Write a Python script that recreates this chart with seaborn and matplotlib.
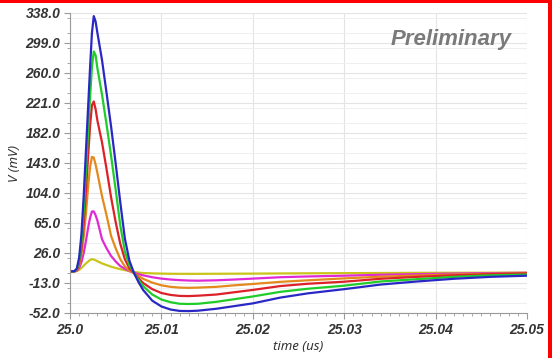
import numpy as np
import pandas as pd
import matplotlib
matplotlib.use("Agg")
import matplotlib.pyplot as plt
import seaborn as sns
from matplotlib.patches import Rectangle
from matplotlib.ticker import MultipleLocator

# time offsets in ns after 25.0 us
t_ns = [0, 0.5, 0.75, 1.0, 1.25, 1.5, 1.75, 2.0, 2.2, 2.4, 2.6, 2.8, 3.0, 3.5, 4.0,
        4.5, 5.0, 5.5, 6.0, 6.5, 7.0, 7.5, 8.0, 9.0, 10, 11, 12, 13, 14, 16, 18,
        20, 23, 26, 30, 34, 38, 42, 46, 50]

v_blue = [2, 2.5, 6, 20, 50, 100, 160, 220, 268, 312, 334, 327, 312, 277, 234,
          190, 142, 92, 45, 16, 0, -12, -22, -36, -43.5, -47.5, -49.3, -49.5, -49, -46.5, -43,
          -39.5, -32, -26.5, -21, -15, -11, -7.5, -5, -3.5]
v_green = [2, 2.4, 5, 16, 40, 82, 135, 188, 230, 268, 288, 283, 266, 232, 193,
           152, 108, 62, 28, 10, 0, -9, -17, -28, -34.5, -38, -40, -40.3, -40, -37.5, -34,
           -30.5, -24.5, -20.5, -16.5, -11, -8, -5, -3, -2]
v_red = [2, 2.3, 4.5, 13, 32, 64, 108, 155, 192, 218, 223, 213, 198, 170, 135,
         98, 66, 38, 18, 6, 0, -7, -13, -21, -26, -28.5, -29.8, -30, -29.5, -28, -25,
         -22, -17, -14, -11.3, -7.5, -5, -3, -1.5, -0.5]
v_orange = [2, 2.2, 4, 10, 24, 47, 78, 115, 138, 151, 150, 141, 130, 100, 75,
            48, 32, 18, 8.6, 3, 0, -4, -7.5, -12.5, -16, -18, -19, -19.3, -19, -18, -16,
            -14.3, -11.5, -9.5, -7, -4.8, -3.2, -2, -1, -0.3]
v_magenta = [2, 2.1, 3, 6.5, 14, 26, 42, 60, 72, 80, 80, 75, 68, 44, 32,
             22, 15, 9, 5.5, 2.5, 0.5, -1.5, -3, -5.5, -7.3, -8.5, -9.3, -9.8, -10, -9.5, -8.5,
             -7.3, -5.5, -4.5, -3.5, -2.3, -1.5, -0.8, -0.2, 0.3]
v_yellow = [2, 2, 2.5, 4, 6.5, 9.5, 12.5, 15, 17, 18, 17.5, 16.5, 15.3, 12.5, 10.3,
            8.2, 6.5, 5, 3.7, 2.5, 1.4, 0.6, 0, -0.5, -0.8, -1, -1.1, -1.1, -1.1, -1, -0.9,
            -0.8, -0.6, -0.4, -0.2, 0, 0.2, 0.3, 0.4, 0.5]

series = {
    "yellow": v_yellow,
    "magenta": v_magenta,
    "orange": v_orange,
    "red": v_red,
    "green": v_green,
    "blue": v_blue,
}
colors = {
    "yellow": "#c9c41a",
    "magenta": "#e02ad6",
    "orange": "#e48a1c",
    "red": "#dc2128",
    "green": "#20cc2a",
    "blue": "#2a28c4",
}

y_ticks = [-52.0, -13.0, 26.0, 65.0, 104.0, 143.0, 182.0, 221.0, 260.0, 299.0, 338.0]
x_ticks = [25.0, 25.01, 25.02, 25.03, 25.04, 25.05]
x_labels = ["25.0", "25.01", "25.02", "25.03", "25.04", "25.05"]

rows = []
for name, vals in series.items():
    for t, v in zip(t_ns, vals):
        rows.append({"time": 25.0 + t / 1000.0, "V": v, "trace": name})
df = pd.DataFrame(rows)

sns.set_theme(style="white")
plt.rcParams['font.family'] = ['Noto Sans', 'DejaVu Sans']

fig = plt.figure(figsize=(5.52, 3.58), dpi=100)
ax = fig.add_axes([70 / 552, 1 - 313 / 358, 457 / 552, 300 / 358])

sns.lineplot(data=df, x="time", y="V", hue="trace", palette=colors,
             estimator=None, sort=False, linewidth=1.6, legend=False, ax=ax)

ax.set_xlim(25.0, 25.05)
ax.set_ylim(-52, 338)
ax.set_xticks(x_ticks)
ax.set_xticklabels(x_labels)
ax.set_yticks(y_ticks)
ax.set_yticklabels([f"{v:.1f}" for v in y_ticks])
ax.xaxis.set_minor_locator(MultipleLocator(0.001))
ax.yaxis.set_minor_locator(MultipleLocator(19.5))

ax.grid(True, which="major", color="#e4e4e4", linewidth=0.8)
ax.grid(True, which="minor", axis="y", color="#efefef", linewidth=0.7)
ax.set_axisbelow(True)

for s in ["top", "right"]:
    ax.spines[s].set_visible(False)
for s in ["left", "bottom"]:
    ax.spines[s].set_color("#9a9a9a")
    ax.spines[s].set_linewidth(0.8)

ax.tick_params(which="major", direction="out", length=4, width=0.8, color="#9a9a9a",
               labelsize=10, labelcolor="#333333", pad=3)
ax.tick_params(which="minor", direction="out", length=2.5, width=0.6, color="#9a9a9a")
ax.tick_params(axis="x", which="both", bottom=True)
ax.tick_params(axis="y", which="both", left=True)
for lab in ax.get_xticklabels() + ax.get_yticklabels():
    lab.set_family(["Liberation Sans", "DejaVu Sans"])
    lab.set_fontstyle("italic")
    lab.set_fontweight("bold")

ax.set_xlabel("time (us)", fontsize=9.5, fontstyle="italic", color="#333333", labelpad=2)
ax.set_ylabel("V (mV)", fontsize=9.5, fontstyle="italic", color="#333333", labelpad=3)

ax.text(0.967, 0.91, "Preliminary", transform=ax.transAxes, ha="right", va="center",
        fontsize=16, fontweight="bold", fontstyle="italic", color="#7a7a7a",
        family=["Liberation Sans", "DejaVu Sans"])

# red frame edges on top and right
fig.add_artist(Rectangle((0, 1 - 2.5 / 358), 1, 2.5 / 358, transform=fig.transFigure,
                         color="#ff0000", lw=0))
fig.add_artist(Rectangle((1 - 4 / 552, 0), 4 / 552, 1, transform=fig.transFigure,
                         color="#ff0000", lw=0))

fig.savefig("out.png", dpi=100)
